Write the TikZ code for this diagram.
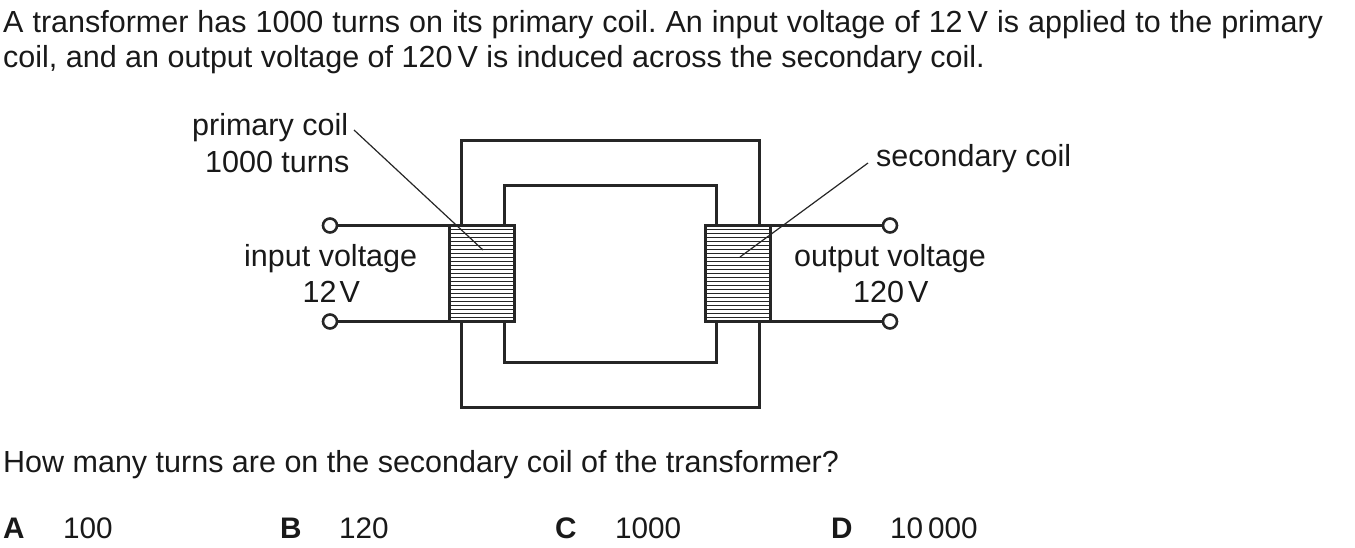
\documentclass[tikz,border=0pt]{standalone}
\usepackage{fontspec}
\setmainfont{Liberation Sans}
\frenchspacing
\tikzset{
    core/.style={black!85, line width=3pt},
    coil/.style={draw=black!85, line width=3pt, minimum width=65pt, minimum height=96pt, inner sep=0pt, outer sep=0pt},
    lead/.style={black!85, line width=3pt},
    pointer/.style={black!85, line width=1.2pt},
    terminal/.style={circle, draw=black!85, line width=2.6pt, fill=white, minimum size=14pt, inner sep=0pt, outer sep=0pt},
    txt/.style={anchor=base west, inner sep=0pt, font=\fontsize{30.5pt}{36pt}\selectfont, text=black!90},
    ans/.style={txt, font=\fontsize{29.7pt}{36pt}\selectfont}
}
\begin{document}
\begin{tikzpicture}[x=1pt, y=-1pt]
    \useasboundingbox (0, 0) rectangle (1355, 548);
    % text
    \node[txt] (line1) at (3, 33) {\spaceskip=9pt plus 2pt minus 1pt A transformer has 1000 turns on its primary coil. An input voltage of 12\,V is applied to the primary};
    \node[txt] (line2) at (3, 68) {coil, and an output voltage of 120\,V is induced across the secondary coil.};
    \node[txt] (question) at (3, 472) {How many turns are on the secondary coil of the transformer?};
    \node[ans] (keyA) at (3, 538) {\bfseries A};
    \node[ans] (ansA) at (63, 538) {100};
    \node[ans] (keyB) at (280, 538) {\bfseries B};
    \node[ans] (ansB) at (339, 538) {120};
    \node[ans] (keyC) at (555, 538) {\bfseries C};
    \node[ans] (ansC) at (615, 538) {1000};
    \node[ans] (keyD) at (831, 538) {\bfseries D};
    \node[ans] (ansD) at (890, 538) {10\,000};
    % core
    \coordinate (oTL) at (461.5, 140.5);
    \coordinate (oTR) at (759.5, 140.5);
    \coordinate (oBL) at (461.5, 407);
    \coordinate (oBR) at (759.5, 407);
    \coordinate (iTL) at (504.5, 185.5);
    \coordinate (iTR) at (716.5, 185.5);
    \coordinate (iBL) at (504.5, 362);
    \coordinate (iBR) at (716.5, 362);
    \draw[core] (461.5, 225) -- (oTL) -- (oTR) -- (759.5, 225);
    \draw[core] (461.5, 321) -- (oBL) -- (oBR) -- (759.5, 321);
    \draw[core] (504.5, 225) -- (iTL) -- (iTR) -- (716.5, 225);
    \draw[core] (504.5, 321) -- (iBL) -- (iBR) -- (716.5, 321);
    % coils
    \node[coil] (coilP) at (482, 273.5) {};
    \node[coil] (coilS) at (738, 273.5) {};
    \foreach \y in {229.5, 233.5, ..., 318} {
        \draw[black!85, line width=0.8pt] (450, \y) -- (514, \y);
        \draw[black!85, line width=0.8pt] (706, \y) -- (770, \y);
    }
    % terminals
    \node[terminal] (inA) at (330, 225.5) {};
    \node[terminal] (inB) at (330, 321.5) {};
    \node[terminal] (outA) at (890, 225.5) {};
    \node[terminal] (outB) at (890, 321.5) {};
    \draw[lead] (inA) -- (inA -| coilP.west);
    \draw[lead] (inB) -- (inB -| coilP.west);
    \draw[lead] (outA) -- (outA -| coilS.east);
    \draw[lead] (outB) -- (outB -| coilS.east);
    % labels
    \node[txt] (primary) at (192, 136) {primary coil};
    \node[txt] (turns) at (205, 173) {1000 turns};
    \node[txt] (input) at (244, 266) {input voltage};
    \node[txt] (inval) at (302.5, 302) {12\kern3pt V};
    \node[txt] (secondary) at (876, 167) {secondary coil};
    \node[txt] (output) at (794, 266) {output voltage};
    \node[txt] (outval) at (853, 302) {120\kern4pt V};
    % pointers
    \coordinate (primaryEnd) at (354, 130);
    \coordinate (primaryTip) at (483, 250);
    \coordinate (secondaryEnd) at (868, 163);
    \coordinate (secondaryTip) at (740, 257);
    \draw[pointer] (primaryEnd) -- (primaryTip);
    \draw[pointer] (secondaryEnd) -- (secondaryTip);
\end{tikzpicture}
\end{document}
